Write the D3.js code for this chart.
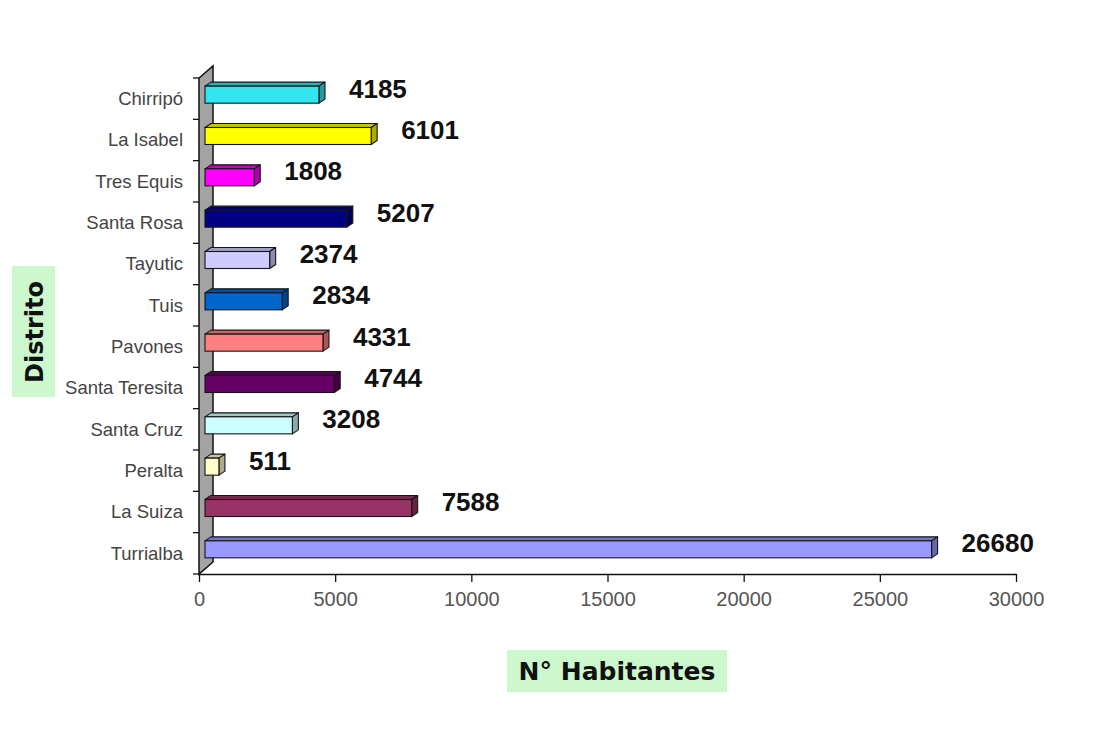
<!DOCTYPE html>
<html>
<head>
<meta charset="utf-8">
<script src="https://cdn.jsdelivr.net/npm/d3@7"></script>
<style>
  body { margin: 0; background: #fff; }
</style>
</head>
<body>
<div id="chart"></div>
<script>
// data
const districts = ['Chirripó', 'La Isabel', 'Tres Equis', 'Santa Rosa', 'Tayutic', 'Tuis',
    'Pavones', 'Santa Teresita', 'Santa Cruz', 'Peralta', 'La Suiza', 'Turrialba'];
const habitantes = [4185, 6101, 1808, 5207, 2374, 2834, 4331, 4744, 3208, 511, 7588, 26680];
const barColors = ['#33e5ee', '#ffff00', '#ff00ff', '#000080', '#ccccff', '#0066cc',
    '#ff8080', '#660066', '#ccffff', '#ffffcc', '#993366', '#9999ff'];
const xTicks = [0, 5000, 10000, 15000, 20000, 25000, 30000];

function draw() {
    const dimensions = { width: 1098, height: 733 };

    const svg = d3.select('#chart')
        .append('svg')
        .attr('width', dimensions.width)
        .attr('height', dimensions.height)
        .style('font-family', 'Arial, "Liberation Sans", sans-serif');

    const xScale = d3.scaleLinear().domain([0, 30000]).range([199, 1016]);
    const yScale = d3.scaleBand().domain(districts).range([78, 574]);
    const bw = yScale.bandwidth();

    // 3D depth of the wall and of the bars
    const wall = { dx: 14, dy: -12 };
    const depth = { dx: 6, dy: -4 };
    const barH = 17;

    // side wall
    const x0 = xScale(0), yTop = yScale.range()[0], yBot = yScale.range()[1];
    svg.append('polygon')
        .attr('points', [
            [x0, yBot], [x0, yTop], [x0 + wall.dx, yTop + wall.dy], [x0 + wall.dx, yBot + wall.dy]
        ].join(' '))
        .attr('fill', '#a3a3a3')
        .attr('stroke', '#111')
        .attr('stroke-width', 1.5);

    // y tick marks at band edges
    const edges = districts.map(d => yScale(d)).concat([yBot]);
    svg.selectAll('.ytick')
        .data(edges)
        .join('line')
        .attr('x1', x0 - 6).attr('x2', x0)
        .attr('y1', d => d).attr('y2', d => d)
        .attr('stroke', '#111').attr('stroke-width', 1.3);

    // x axis
    const xAxis = svg.append('g')
        .attr('transform', `translate(0, ${yBot})`)
        .call(d3.axisBottom(xScale).tickValues(xTicks).tickSize(8).tickSizeOuter(0).tickPadding(10).tickFormat(d3.format('d')));
    xAxis.select('.domain').attr('stroke', '#111').attr('stroke-width', 1.5);
    xAxis.selectAll('.tick line').attr('stroke', '#111').attr('stroke-width', 1.3);
    xAxis.selectAll('.tick text')
        .attr('font-size', 20)
        .attr('fill', '#555')
        .attr('font-family', 'Arial, "Liberation Sans", sans-serif');

    // bars
    const bars = svg.selectAll('.bar')
        .data(districts.map((d, i) => ({ name: d, value: habitantes[i], color: barColors[i] })))
        .join('g')
        .attr('class', 'bar');

    const fx0 = d => xScale(0) + 6;
    const fx1 = d => xScale(d.value) + 6;
    const ftop = d => yScale(d.name) + bw / 2 - 4 - barH / 2;

    bars.append('polygon')
        .attr('points', d => [
            [fx0(d), ftop(d)], [fx0(d) + depth.dx, ftop(d) + depth.dy],
            [fx1(d) + depth.dx, ftop(d) + depth.dy], [fx1(d), ftop(d)]
        ].join(' '))
        .attr('fill', d => d3.color(d.color).darker(0.7))
        .attr('stroke', '#151515').attr('stroke-width', 1.1).attr('stroke-linejoin', 'round');

    bars.append('polygon')
        .attr('points', d => [
            [fx1(d), ftop(d)], [fx1(d) + depth.dx, ftop(d) + depth.dy],
            [fx1(d) + depth.dx, ftop(d) + barH + depth.dy], [fx1(d), ftop(d) + barH]
        ].join(' '))
        .attr('fill', d => d3.color(d.color).darker(1.1))
        .attr('stroke', '#151515').attr('stroke-width', 1.1).attr('stroke-linejoin', 'round');

    bars.append('rect')
        .attr('x', fx0)
        .attr('y', ftop)
        .attr('width', d => fx1(d) - fx0(d))
        .attr('height', barH)
        .attr('fill', d => d.color)
        .attr('stroke', '#151515').attr('stroke-width', 1.1);

    // value labels
    bars.append('text')
        .attr('x', d => xScale(d.value) + 36)
        .attr('y', d => yScale(d.name) + bw / 2 - 1)
        .attr('font-size', 26)
        .attr('font-weight', 'bold')
        .attr('fill', '#111')
        .text(d => d.value);

    // category labels
    svg.selectAll('.cat')
        .data(districts)
        .join('text')
        .attr('x', 183)
        .attr('y', d => yScale(d) + bw / 2)
        .attr('dy', '0.35em')
        .attr('text-anchor', 'end')
        .attr('font-size', 18.5)
        .attr('fill', '#444')
        .text(d => d);

    // axis titles on green boxes
    svg.append('rect')
        .attr('x', 12).attr('y', 266).attr('width', 43).attr('height', 131)
        .attr('fill', '#cdf8cd');
    svg.append('text')
        .attr('transform', 'translate(34, 332) rotate(-90)')
        .attr('text-anchor', 'middle')
        .attr('dy', '0.36em')
        .attr('font-family', '"DejaVu Sans", sans-serif')
        .attr('font-weight', 'bold')
        .attr('font-size', 24)
        .attr('fill', '#111')
        .text('Distrito');

    svg.append('rect')
        .attr('x', 507).attr('y', 650).attr('width', 220).attr('height', 42)
        .attr('fill', '#cdf8cd');
    svg.append('text')
        .attr('x', 617).attr('y', 671)
        .attr('text-anchor', 'middle')
        .attr('dy', '0.36em')
        .attr('font-family', '"DejaVu Sans", sans-serif')
        .attr('font-weight', 'bold')
        .attr('font-size', 25)
        .attr('fill', '#111')
        .text('N° Habitantes');
}

draw();
</script>
</body>
</html>
